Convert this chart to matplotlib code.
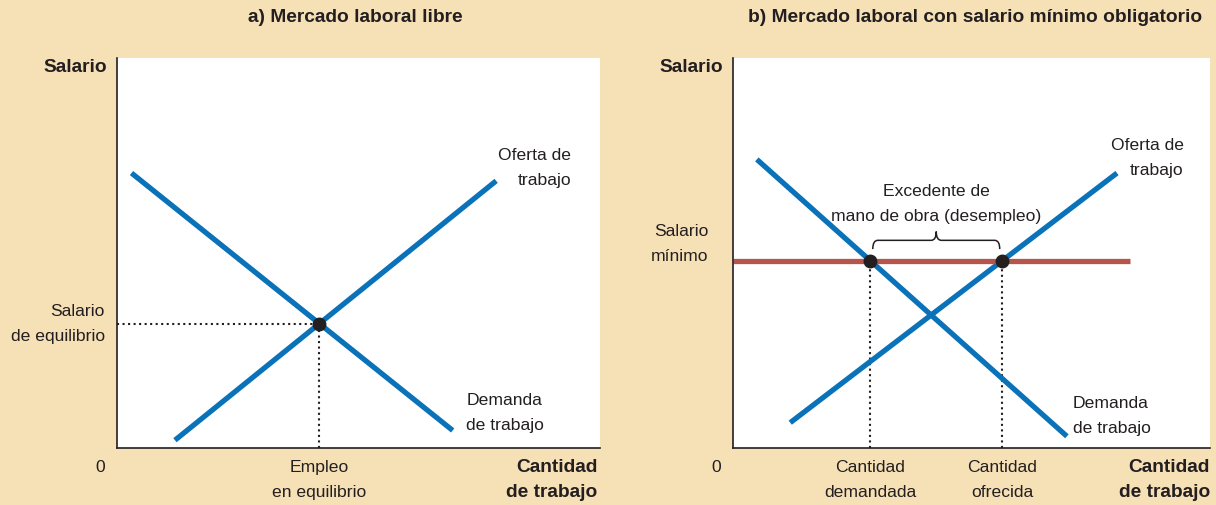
import numpy as np
import matplotlib.pyplot as plt
from matplotlib.path import Path
from matplotlib.patches import PathPatch

plt.rcParams['font.family'] = ['Liberation Sans', 'DejaVu Sans']

# panel a) free market (quantity, wage)
a_demand_x = [0.3, 6.95]
a_demand_y = [7.05, 0.45]
a_supply_x = [1.2, 7.85]
a_supply_y = [0.2, 6.85]

# panel b) with minimum wage
b_demand_x = [0.5, 7.0]
b_demand_y = [7.4, 0.3]
b_supply_x = [1.2, 8.05]
b_supply_y = [0.65, 7.05]
min_wage = 4.8
min_wage_x = [0.0, 8.32]

BG = '#F6E0B6'
BLUE = '#0A72B9'
RED = '#B5554B'
INK = '#231F20'

W, H = 1216, 505
fig = plt.figure(figsize=(W / 100, H / 100), dpi=100, facecolor=BG)


def make_axes(x0, x1, y0, y1):
    ax = fig.add_axes([x0 / W, 1 - y1 / H, (x1 - x0) / W, (y1 - y0) / H])
    ax.set_facecolor('white')
    ax.set_xlim(0, 10)
    ax.set_ylim(0, 10)
    for s in ('top', 'right'):
        ax.spines[s].set_visible(False)
    for s in ('left', 'bottom'):
        ax.spines[s].set_color(INK)
        ax.spines[s].set_linewidth(1.2)
    ax.set_xticks([])
    ax.set_yticks([])
    return ax


def cross(dx, dy, sx, sy):
    # intersection of two straight lines given by endpoints
    m1 = (dy[1] - dy[0]) / (dx[1] - dx[0])
    m2 = (sy[1] - sy[0]) / (sx[1] - sx[0])
    x = (sy[0] - dy[0] + m1 * dx[0] - m2 * sx[0]) / (m1 - m2)
    return x, dy[0] + m1 * (x - dx[0])


def x_at(xs, ys, y):
    return np.interp(y, sorted(ys), [x for _, x in sorted(zip(ys, xs))])


def brace(ax, x0, x1, y, h):
    xm = (x0 + x1) / 2
    q = (x1 - x0) * 0.04
    verts = [(x0, y), (x0, y + h / 2), (x0 + q, y + h / 2),
             (xm - q, y + h / 2), (xm, y + h / 2), (xm, y + h),
             (xm, y + h / 2), (xm + q, y + h / 2),
             (x1 - q, y + h / 2), (x1, y + h / 2), (x1, y)]
    codes = [Path.MOVETO, Path.CURVE3, Path.CURVE3,
             Path.LINETO, Path.CURVE3, Path.CURVE3,
             Path.CURVE3, Path.CURVE3,
             Path.LINETO, Path.CURVE3, Path.CURVE3]
    ax.add_patch(PathPatch(Path(verts, codes), fill=False, color=INK, lw=1.1))


fs = 12.6
bfs = 13.8
kw = dict(fontsize=fs, color=INK, linespacing=1.85)
bkw = dict(fontsize=bfs, color=INK, fontweight='bold', linespacing=1.6)

# ---- panel a
ax1 = make_axes(117, 600, 58, 448)
ex, ey = cross(a_demand_x, a_demand_y, a_supply_x, a_supply_y)
ax1.plot([0, ex], [ey, ey], ls=':', color=INK, lw=1.5)
ax1.plot([ex, ex], [0, ey], ls=':', color=INK, lw=1.5)
ax1.plot(a_demand_x, a_demand_y, color=BLUE, lw=3.8, solid_capstyle='butt')
ax1.plot(a_supply_x, a_supply_y, color=BLUE, lw=3.8, solid_capstyle='butt')
ax1.plot(ex, ey, 'o', color=INK, ms=9, zorder=5)
ax1.text(9.4, 7.18, 'Oferta de\ntrabajo', ha='right', va='center', **kw)
ax1.text(7.23, 0.9, 'Demanda\nde trabajo', ha='left', va='center', **kw)
ax1.text(-0.25, ey, 'Salario\nde equilibrio', ha='right', va='center', **kw)
ax1.text(-0.2, 9.75, 'Salario', ha='right', va='center', **bkw)
ax1.text(-0.35, -0.5, '0', ha='center', va='center', **kw)
ax1.text(ex, -0.82, 'Empleo\nen equilibrio', ha='center', va='center', **kw)
ax1.text(9.95, -0.82, 'Cantidad\nde trabajo', ha='right', va='center', **bkw)
fig.text(355 / W, 1 - 18 / H, 'a) Mercado laboral libre', ha='center',
         va='center', fontsize=bfs, fontweight='bold', color=INK)

# ---- panel b
ax2 = make_axes(733, 1210, 58, 448)
qd = x_at(b_demand_x, b_demand_y, min_wage)
qs = x_at(b_supply_x, b_supply_y, min_wage)
ax2.plot([qd, qd], [0, min_wage], ls=':', color=INK, lw=1.5)
ax2.plot([qs, qs], [0, min_wage], ls=':', color=INK, lw=1.5)
ax2.plot(b_demand_x, b_demand_y, color=BLUE, lw=3.8, solid_capstyle='butt')
ax2.plot(b_supply_x, b_supply_y, color=BLUE, lw=3.8, solid_capstyle='butt')
ax2.plot(min_wage_x, [min_wage, min_wage], color=RED, lw=3.8, solid_capstyle='butt')
ax2.plot([qd, qs], [min_wage, min_wage], 'o', color=INK, ms=9, zorder=5)
brace(ax2, qd + 0.05, qs - 0.05, min_wage + 0.3, 0.45)
ax2.text((qd + qs) / 2, 6.26, 'Excedente de\nmano de obra (desempleo)', ha='center',
         va='center', **kw)
ax2.text(9.45, 7.44, 'Oferta de\ntrabajo', ha='right', va='center', **kw)
ax2.text(7.13, 0.82, 'Demanda\nde trabajo', ha='left', va='center', **kw)
ax2.text(-0.52, 5.23, 'Salario\nmínimo', ha='right', va='center', **kw)
ax2.text(-0.2, 9.75, 'Salario', ha='right', va='center', **bkw)
ax2.text(-0.35, -0.5, '0', ha='center', va='center', **kw)
ax2.text(qd, -0.82, 'Cantidad\ndemandada', ha='center', va='center', **kw)
ax2.text(qs, -0.82, 'Cantidad\nofrecida', ha='center', va='center', **kw)
ax2.text(10.0, -0.82, 'Cantidad\nde trabajo', ha='right', va='center', **bkw)
fig.text(975 / W, 1 - 18 / H, 'b) Mercado laboral con salario mínimo obligatorio',
         ha='center', va='center', fontsize=bfs, fontweight='bold', color=INK)

for ax in (ax1, ax2):
    for t in ax.texts:
        t.set_clip_on(False)

fig.savefig('out.png', dpi=100, facecolor=BG)
